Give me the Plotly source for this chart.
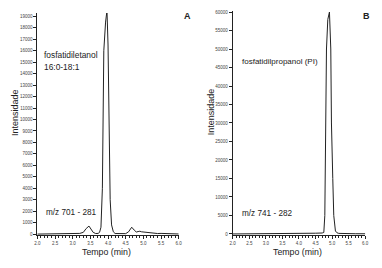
import plotly.graph_objects as go

# Panel A: fosfatidiletanol 16:0-18:1, m/z 701 - 281
time_a = [2.0, 3.0, 3.1, 3.2, 3.3, 3.38, 3.46, 3.52, 3.58, 3.65, 3.72, 3.76, 3.8, 3.84, 3.88,
          3.93, 3.97, 4.0, 4.03, 4.06, 4.1, 4.15, 4.2, 4.3, 4.4, 4.5, 4.58, 4.67, 4.74, 4.8,
          4.85, 4.9, 4.95, 5.0, 5.1, 5.2, 5.3, 5.4, 5.5, 5.6, 5.7, 5.8, 6.0]
int_a = [0, 0, 20, 60, 150, 480, 700, 450, 150, 50, 60, 150, 600, 4000, 16000,
         18500, 19500, 16500, 9000, 3000, 800, 200, 50, 30, 30, 40, 200, 600, 350, 180,
         220, 250, 200, 180, 120, 80, 60, 50, 60, 40, 30, 20, 10]

# Panel B: fosfatidilpropanol (PI), m/z 741 - 282
time_b = [2.0, 4.1, 4.15, 4.3, 4.5, 4.7, 4.75, 4.78, 4.81, 4.83, 4.87, 4.92, 4.96, 4.98,
          5.02, 5.05, 5.1, 5.15, 5.2, 5.3, 5.4, 5.5, 5.7, 6.0]
int_b = [0, 0, 200, 200, 200, 250, 400, 5000, 25000, 50000, 58000, 60000, 50000, 30000,
         15000, 5000, 800, 300, 150, 100, 150, 80, 60, 50]

x_ticks = [2.0, 2.5, 3.0, 3.5, 4.0, 4.5, 5.0, 5.5, 6.0]
x_label = "Tempo (min)"
y_label = "Intensidade"

W, H = 382, 268
FONT = "Liberation Sans, Arial, sans-serif"
INK = "#222222"


def px(x):
    return x / W


def py(y):
    return (H - y) / H


fig = go.Figure()
fig.add_trace(go.Scatter(x=time_a, y=int_a, mode="lines", xaxis="x", yaxis="y",
                         line=dict(color=INK, width=1), showlegend=False, hoverinfo="skip"))
fig.add_trace(go.Scatter(x=time_b, y=int_b, mode="lines", xaxis="x2", yaxis="y2",
                         line=dict(color=INK, width=1), showlegend=False, hoverinfo="skip"))

tickfont = dict(family=FONT, size=4.5, color="#444444")
xcommon = dict(range=[2.0, 6.0], tickvals=x_ticks, ticktext=[f"{v:.1f}" for v in x_ticks],
               showline=True, linecolor=INK, linewidth=1, ticks="outside", ticklen=3,
               tickcolor=INK, tickwidth=1, showgrid=False, zeroline=False, tickfont=tickfont,
               minor=dict(ticks="outside", ticklen=2, dtick=0.1, tickcolor=INK, showgrid=False))
ycommon = dict(showline=True, linecolor=INK, linewidth=1, ticks="outside", ticklen=3,
               tickcolor=INK, tickwidth=1, showgrid=False, zeroline=False, tickfont=tickfont,
               tickformat="d")

fig.update_layout(
    width=W, height=H,
    margin=dict(l=0, r=0, t=0, b=0),
    paper_bgcolor="white", plot_bgcolor="white",
    xaxis=dict(domain=[px(35), px(179)], anchor="y", **xcommon),
    yaxis=dict(domain=[py(236), py(12)], anchor="x", range=[-100, 19300], dtick=1000, **ycommon),
    xaxis2=dict(domain=[px(234), px(369)], anchor="y2", **xcommon),
    yaxis2=dict(domain=[py(236), py(10)], anchor="x2", range=[-350, 60300], dtick=5000, **ycommon),
)

ann = []


def txt(x, y, s, size=9, bold=False, angle=0, xanchor="left"):
    ann.append(dict(x=px(x), y=py(y), xref="paper", yref="paper", text=f"<b>{s}</b>" if bold else s,
                    showarrow=False, xanchor=xanchor, yanchor="middle", textangle=angle,
                    font=dict(family=FONT, size=size, color=INK)))


txt(40, 54, "fosfatidiletanol", 8.4)
txt(40, 66, "16:0-18:1", 8.4)
txt(42, 213, "m/z 701 - 281", 8.2)
txt(182, 15, "A", 9, bold=True)
txt(12, 112, y_label, 9.0, angle=-90, xanchor="center")
txt(105, 253, x_label, 8.8, xanchor="center")

txt(241, 61, "fosfatidilpropanol (PI)", 8.0)
txt(241, 214, "m/z 741 - 282", 8.2)
txt(365, 15, "B", 9, bold=True)
txt(212, 112, y_label, 9.0, angle=-90, xanchor="center")
txt(300, 253, x_label, 8.8, xanchor="center")

fig.update_layout(annotations=ann)
fig.write_html("out.html", config={"displayModeBar": False},
               post_script="document.body.style.margin='0';")
